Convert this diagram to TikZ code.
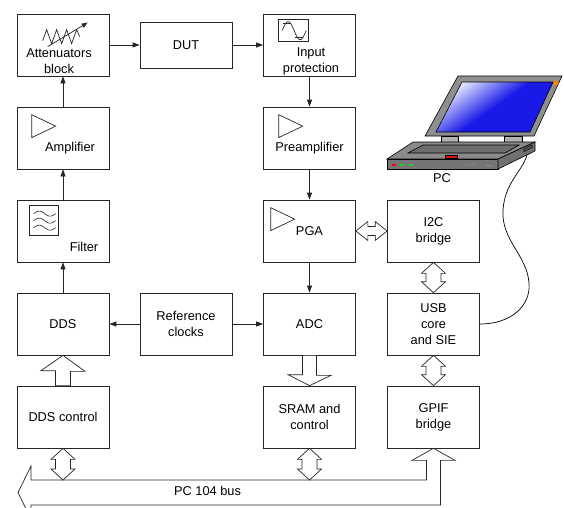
\documentclass[tikz,border=0pt]{standalone}
\usepackage{fontspec}
\setmainfont{Liberation Sans}
\usetikzlibrary{arrows.meta, positioning, calc}
\definecolor{LidGray}{HTML}{8F8F8F}
\definecolor{BaseGray}{HTML}{8A8A8A}
\definecolor{KeyGray}{HTML}{6E6E6E}
\definecolor{SideGray}{HTML}{707070}
\definecolor{ScreenBlue}{HTML}{1A1AE8}
\definecolor{ScreenGlow}{HTML}{E8ECFF}
\definecolor{LedGreen}{HTML}{22CC22}
\definecolor{LedRed}{HTML}{E01010}
\newcommand{\blockfont}{\fontsize{12.8}{16}\selectfont}

\begin{document}
\begin{tikzpicture}[x=1pt, y=-1pt,
    block/.style={draw=black!85, line width=0.7pt, fill=white, minimum width=92pt, minimum height=62pt, inner sep=0pt, align=center, font=\blockfont},
    caption/.style={inner sep=0pt, align=center, font=\blockfont},
    sig/.style={draw=black!85, line width=0.7pt, -{Triangle[length=7pt,width=5pt]}},
    hollow/.style={draw=black!85, line width=0.7pt, fill=white},
    icon/.style={draw=black!85, line width=0.7pt},
    amptri/.pic={\draw[icon] (0,0) -- (24,11.5) -- (0,23) -- cycle;}
]
\useasboundingbox (0,0) rectangle (564,507);
\clip (0,0) rectangle (564,507);

% Blocks
\node[block] (atten) at (63,45) {};
\node[block, minimum height=46pt] (dut) at (186,45) {DUT};
\node[block] (inprot) at (309.5,45) {};
\node[block] (amp) at (63,138) {};
\node[block] (preamp) at (309.5,138) {};
\node[block] (filter) at (63,231) {};
\node[block] (pga) at (309.5,231) {};
\node[block] (i2c) at (433.5,231) {I2C\\bridge};
\node[block] (dds) at (63,324) {DDS};
\node[block] (refclk) at (186,324) {Reference\\clocks};
\node[block] (adc) at (309.5,324) {ADC};
\node[block] (usb) at (433.5,324) {USB\\core\\and SIE};
\node[block] (ddsctl) at (63,417) {DDS control};
\node[block] (sram) at (309.5,417) {SRAM and\\control};
\node[block] (gpif) at (433.5,417) {GPIF\\bridge};

% Captions of the blocks with symbols
\node[caption] (attentext) at ([xshift=-4pt,yshift=-16pt]atten.center) {Attenuators\\block};
\node[caption] (inprottext) at ([xshift=1.5pt,yshift=-16pt]inprot.center) {Input\\protection};
\node[caption] (amptext) at ([xshift=7pt,yshift=-10pt]amp.center) {Amplifier};
\node[caption] (preamptext) at ([yshift=-10pt]preamp.center) {Preamplifier};
\node[caption] (pgatext) at (pga.center) {PGA};
\node[caption] (filtertext) at ([xshift=21pt,yshift=-16pt]filter.center) {Filter};

% Symbols
\pic at ([xshift=15pt,yshift=-8pt]amp.north west) {amptri};
\pic at ([xshift=15.5pt,yshift=-8pt]preamp.north west) {amptri};
\pic at ([xshift=7.5pt,yshift=-8pt]pga.north west) {amptri};
\begin{scope}[shift={(atten.north west)}]
  \draw[icon] (26,27) -- (30,16) -- (35,30) -- (40,16) -- (45,30) -- (50,16) -- (55,30) -- (60,16) -- (63,23);
  \draw[icon, -{Triangle[length=6pt,width=4.5pt]}] (31,33) -- (71,9);
\end{scope}
\begin{scope}[shift={(filter.north west)}]
  \draw[icon] (13,6) rectangle (42,36);
  \foreach \yy in {14,21,28}
    \draw[icon, line width=0.6pt] plot[domain=0:360, samples=25, smooth] ({17+\x/360*22},{\yy-2.5*sin(\x)});
\end{scope}
\begin{scope}[shift={(inprot.north west)}]
  \draw[icon] (15.5,6) rectangle (45.5,28);
  \draw[icon] plot[domain=0:360, samples=30, smooth] ({19+\x/360*24},{17-9*sin(\x)});
  \draw[icon] (20,10) -- (28,10);
  \draw[icon] (32,24) -- (40,24);
\end{scope}

% Signal path
\draw[sig] (atten) -- (dut);
\draw[sig] (dut) -- (inprot);
\draw[sig] (inprot) -- (preamp);
\draw[sig] (preamp) -- (pga);
\draw[sig] (pga) -- (adc);
\draw[sig] (amp) -- (atten);
\draw[sig] (filter) -- (amp);
\draw[sig] (dds) -- (filter);
\draw[sig] (refclk) -- (dds);
\draw[sig] (refclk) -- (adc);

% Data paths
\draw[hollow] (dds.south) -- ++(22,16) -- ++(-14.5,0) |- (ddsctl.north) -- ++(-7.5,0) -- ++(0,-15) -- ++(-14.5,0) -- cycle;
\draw[hollow] ([xshift=-7pt]adc.south) -- ++(14,0) -- ++(0,20) -- ++(14.5,0) -- (sram.north) -- ++(-21.5,-11) -- ++(14.5,0) -- cycle;
\draw[hollow] (pga.east) -- ++(12,-9.5) -- ++(0,5) -- ([xshift=-12pt,yshift=4.5pt]i2c.west) -- ++(0,-5) -- (i2c.west) -- ++(-12,9.5) -- ++(0,-5) -- ([xshift=12pt,yshift=-4.5pt]pga.east) -- ++(0,5) -- cycle;

% PC 104 bus
\coordinate (bustop) at (0,480);
\coordinate (bustip) at (18,492.5);
\coordinate (ddsbus) at (ddsctl.south |- bustop);
\coordinate (srambus) at (sram.south |- bustop);
\draw[hollow] (gpif.south) -- ++(21.5,12) -- ++(-14.5,0) |- ([xshift=13pt,yshift=-12.5pt]bustip) -- ++(0,14) -- (bustip) -- ++(13,-26.5) -- ++(0,14) -| ([xshift=-7pt,yshift=-12pt]gpif.south) -- ++(-14.5,0) -- cycle;
\node[caption] (buslabel) at (207.5,491) {PC 104 bus};

\foreach \a/\b in {i2c.south/usb.north, usb.south/gpif.north, ddsctl.south/ddsbus, sram.south/srambus}
  \draw[hollow] (\a) -- ++(12,11) -- ++(-4.5,0) |- ([xshift=12pt,yshift=11pt]\b) -- (\b) -- ++(-12,-11) -- ++(4.5,0) |- ([xshift=-12pt,yshift=-11pt]\a) -- cycle;

% USB cable to the PC
\coordinate (pcport) at (527,155);
\draw[line width=0.7pt] (usb.east) .. controls (512,324) and (531,305) .. (529,283) .. controls (527,255) and (501,240) .. (503,210) .. controls (505,182) and (522,172) .. (pcport);

% Laptop
\begin{scope}[line width=0.6pt]
  \draw[fill=LidGray] (425,136) -- (458,76) -- (562,76) -- (534,136) -- cycle;
  \shade[top color=ScreenGlow, bottom color=ScreenBlue, middle color=ScreenBlue, shading angle=35] (436,132) -- (462,82) -- (553,82) -- (530,132) -- cycle;
  \draw (436,132) -- (462,82) -- (553,82) -- (530,132) -- cycle;
  \fill[orange] (556,83) circle (2.5);
  \draw[fill=LidGray!70] (441,136) rectangle (458,142);
  \draw[fill=LidGray!70] (504,136) rectangle (522,142);
  \draw[fill=BaseGray] (387,159) -- (413,142) -- (535,142) -- (498,159) -- cycle;
  \draw[fill=KeyGray] (408,153) -- (423,145) -- (519,145) -- (505,153) -- cycle;
  \draw[fill=LedRed] (445,155) rectangle (457,158);
  \draw[fill=BaseGray!85!black] (387,159) rectangle (498,169);
  \draw[fill=SideGray] (498,159) -- (535,142) -- (535,151) -- (498,169) -- cycle;
  \draw[fill=black!60] (524,149) -- (532,145) -- (532,147.5) -- (524,151.5) -- cycle;
  \fill[LedRed] (392,163.5) rectangle (396,166);
  \fill[LedGreen] (400,163.5) rectangle (404,166);
  \fill[LedGreen] (409,163.5) rectangle (413,166);
  \foreach \k in {466,469,472,475}
    \fill[black!45] (\k,164.8) circle (0.8);
  \draw[black!45] (486,164.8) -- (492,164.8);
\end{scope}
\node[caption] (pc) at (442,178) {PC};
\end{tikzpicture}
\end{document}
